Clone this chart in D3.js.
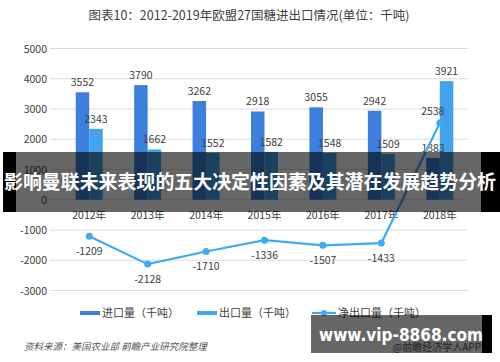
<!DOCTYPE html>
<html>
<head>
<meta charset="utf-8">
<script src="https://cdn.jsdelivr.net/npm/d3@7"></script>
<style>
  body { margin: 0; background: #fff; }
  svg { display: block; font-family: "Noto Sans CJK SC", "Noto Sans", sans-serif; }
</style>
</head>
<body>
<svg id="chart" width="500" height="362"></svg>
<script>
// values (thousand tonnes)
const years = ["2012年", "2013年", "2014年", "2015年", "2016年", "2017年", "2018年"];
const imports = [3552, 3790, 3262, 2918, 3055, 2942, 1383];
const exports = [2343, 1662, 1552, 1582, 1548, 1509, 3921];
const netExports = [-1209, -2128, -1710, -1336, -1507, -1433, 2538];
const yTicks = [-3000, -2000, -1000, 0, 1000, 2000, 3000, 4000, 5000];
const seriesNames = ["进口量（千吨）", "出口量（千吨）", "净出口量（千吨）"];

const C_IMP = "#3c7fdc", C_EXP = "#42a2ec", C_NET = "#3faaf2";

const svg = d3.select("#chart");

const x = d3.scaleBand().domain(years).range([60, 469]);
const xs = d3.scaleBand().domain(["imp", "exp"]).range([0, 27]);
const y = d3.scaleLinear().domain([-3000, 5000]).range([290.5, 48.5]);
const barX = i => x(years[i]) + x.bandwidth() / 2 - 13.5;
const mid = i => x(years[i]) + x.bandwidth() / 2;

svg.append("text")
  .attr("x", 249).attr("y", 20)
  .attr("text-anchor", "middle")
  .attr("font-size", 12.5).attr("fill", "#404040")
  .text("图表10：2012-2019年欧盟27国糖进出口情况(单位：千吨)");

// grid + y labels
svg.append("g").selectAll("line").data(yTicks).join("line")
  .attr("x1", 50).attr("x2", 468)
  .attr("y1", d => y(d)).attr("y2", d => y(d))
  .attr("stroke", "#dcdcdc");
svg.append("g").selectAll("text").data(yTicks).join("text")
  .attr("x", 47).attr("y", d => y(d) + 4)
  .attr("text-anchor", "end")
  .attr("font-size", 10.5).attr("fill", "#404040")
  .text(d => d);

// bars
const g = svg.append("g");
g.selectAll("rect.imp").data(imports).join("rect").attr("class", "imp")
  .attr("x", (d, i) => barX(i) + xs("imp")).attr("width", xs.bandwidth())
  .attr("y", d => y(d)).attr("height", d => y(0) - y(d))
  .attr("fill", C_IMP);
g.selectAll("rect.exp").data(exports).join("rect").attr("class", "exp")
  .attr("x", (d, i) => barX(i) + xs("exp")).attr("width", xs.bandwidth())
  .attr("y", d => y(d)).attr("height", d => y(0) - y(d))
  .attr("fill", C_EXP);

g.selectAll("text.imp").data(imports).join("text").attr("class", "imp")
  .attr("x", (d, i) => barX(i) + xs("imp") + xs.bandwidth() / 2)
  .attr("y", d => y(d) - 6)
  .attr("text-anchor", "middle").attr("font-size", 10.5).attr("fill", "#404040")
  .text(d => d);
g.selectAll("text.exp").data(exports).join("text").attr("class", "exp")
  .attr("x", (d, i) => barX(i) + xs("exp") + xs.bandwidth() / 2)
  .attr("y", d => y(d) - 6)
  .attr("text-anchor", "middle").attr("font-size", 10.5).attr("fill", "#404040")
  .text(d => d);

// year labels
svg.append("g").selectAll("text").data(years).join("text")
  .attr("x", (d, i) => mid(i)).attr("y", 219)
  .attr("text-anchor", "middle").attr("font-size", 10.5).attr("fill", "#404040")
  .text(d => d);

// net export line
const line = d3.line().x((d, i) => mid(i)).y(d => y(d));
svg.append("path").datum(netExports)
  .attr("d", line).attr("fill", "none")
  .attr("stroke", C_NET).attr("stroke-width", 2.2);
svg.append("g").selectAll("circle").data(netExports).join("circle")
  .attr("cx", (d, i) => mid(i)).attr("cy", d => y(d)).attr("r", 3.5)
  .attr("fill", C_NET);
svg.append("g").selectAll("text").data(netExports).join("text")
  .attr("x", (d, i) => d > 0 ? mid(i) - 7 : mid(i))
  .attr("y", d => d > 0 ? y(d) - 8 : y(d) + 19)
  .attr("text-anchor", "middle").attr("font-size", 10.5).attr("fill", "#404040")
  .text(d => d);

// legend
const leg = svg.append("g").attr("font-size", 11).attr("fill", "#404040");
leg.append("rect").attr("x", 80).attr("y", 311).attr("width", 20).attr("height", 4).attr("fill", C_IMP);
leg.append("text").attr("x", 102).attr("y", 317).text(seriesNames[0]);
leg.append("rect").attr("x", 197).attr("y", 311).attr("width", 20).attr("height", 4).attr("fill", C_EXP);
leg.append("text").attr("x", 219).attr("y", 317).text(seriesNames[1]);
leg.append("line").attr("x1", 312).attr("x2", 336).attr("y1", 313).attr("y2", 313)
  .attr("stroke", C_NET).attr("stroke-width", 2.2);
leg.append("circle").attr("cx", 324).attr("cy", 313).attr("r", 3).attr("fill", C_NET);
leg.append("text").attr("x", 338).attr("y", 317).text(seriesNames[2]);

svg.append("text")
  .attr("x", 24).attr("y", 350)
  .attr("font-size", 9.5).attr("font-style", "italic").attr("fill", "#555")
  .text("资料来源：美国农业部 前瞻产业研究院整理");
svg.append("text")
  .attr("x", 481).attr("y", 351)
  .attr("text-anchor", "end")
  .attr("font-size", 10).attr("fill", "#555")
  .text("@前瞻经济学人APP");

// overlay banner across the chart
svg.append("rect").attr("x", 3).attr("y", 152).attr("width", 13).attr("height", 60).attr("fill", "#000");
svg.append("rect").attr("x", 481).attr("y", 152).attr("width", 19).attr("height", 60).attr("fill", "#000");
svg.append("rect").attr("x", 16).attr("y", 152).attr("width", 465).attr("height", 60)
  .attr("fill", "#000").attr("fill-opacity", 0.6);
svg.append("text")
  .attr("x", 250).attr("y", 189)
  .attr("text-anchor", "middle")
  .attr("font-size", 19).attr("font-weight", "bold").attr("fill", "#fff")
  .attr("textLength", 492).attr("lengthAdjust", "spacingAndGlyphs")
  .text("影响曼联未来表现的五大决定性因素及其潜在发展趋势分析");

// bottom-right box
svg.append("rect").attr("x", 482).attr("y", 315).attr("width", 10).attr("height", 38).attr("fill", "#000");
svg.append("rect").attr("x", 311).attr("y", 315).attr("width", 171).attr("height", 38)
  .attr("fill", "#000").attr("fill-opacity", 0.6);
svg.append("text")
  .attr("x", 401).attr("y", 341)
  .attr("text-anchor", "middle")
  .attr("font-size", 17).attr("font-weight", "bold").attr("fill", "#fff")
  .attr("font-family", "'DejaVu Sans', sans-serif")
  .attr("textLength", 164).attr("lengthAdjust", "spacingAndGlyphs")
  .text("www.vip-8868.com");
</script>
</body>
</html>
